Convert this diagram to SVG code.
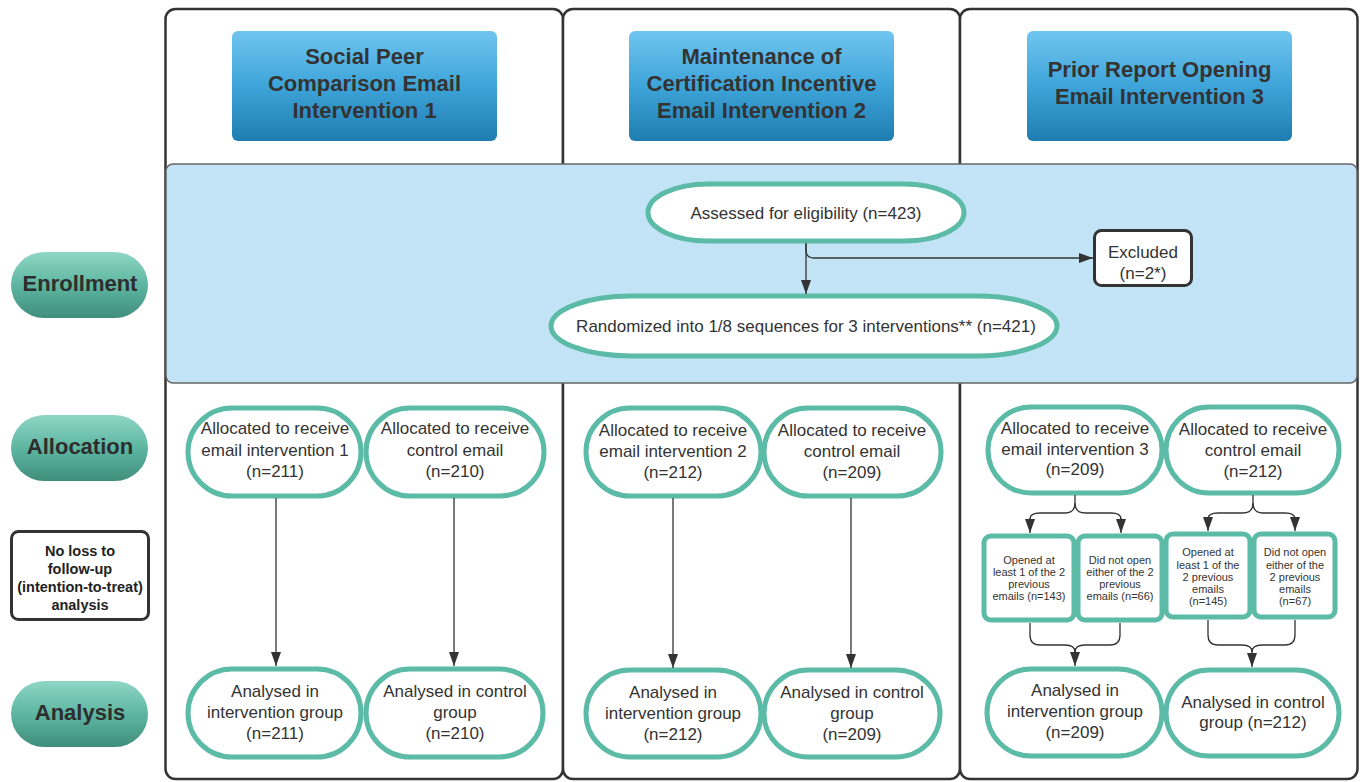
<svg xmlns="http://www.w3.org/2000/svg" width="1360" height="782" viewBox="0 0 1360 782">
<defs>
<linearGradient id="gBlue" x1="0" y1="0" x2="0" y2="1"><stop offset="0" stop-color="#70c5ef"/><stop offset="0.5" stop-color="#3ea4d9"/><stop offset="1" stop-color="#1f7db0"/></linearGradient>
<linearGradient id="gGreen" x1="0" y1="0" x2="0" y2="1"><stop offset="0" stop-color="#8fd6c6"/><stop offset="0.5" stop-color="#5db6a1"/><stop offset="1" stop-color="#3f8e7c"/></linearGradient>
<marker id="arr" viewBox="0 0 14 10" refX="14" refY="5" markerWidth="14" markerHeight="10" markerUnits="userSpaceOnUse" orient="auto"><path d="M0,0 L14,5 L0,10 Z" fill="#333"/></marker>
<style>
.panel{fill:#fff;stroke:#333;stroke-width:2.5}
.hdr{fill:url(#gBlue)}
.hdrt{font-family:"Liberation Sans",Arial,sans-serif;font-weight:bold;font-size:22px;fill:#333;text-anchor:middle}
.lbl{fill:url(#gGreen)}
.lblt{font-family:"Liberation Sans",Arial,sans-serif;font-weight:bold;font-size:22px;fill:#2d2d2d;text-anchor:middle}
.node{fill:#fff;stroke:#5cbba6;stroke-width:5}
.t{font-family:"Liberation Sans",Arial,sans-serif;font-size:17px;fill:#333;text-anchor:middle}
.s{font-family:"Liberation Sans",Arial,sans-serif;font-size:11px;fill:#333;text-anchor:middle}
.b13{font-family:"Liberation Sans",Arial,sans-serif;font-weight:bold;font-size:14.5px;fill:#222;text-anchor:middle}
.dark{fill:#fff;stroke:#333;stroke-width:3}
.conn{fill:none;stroke:#333;stroke-width:1.3}
</style>
</defs>

<g id="panels">
<rect class="panel" x="165.5" y="9" width="397.5" height="770" rx="10"/>
<rect class="panel" x="563" y="9" width="397" height="770" rx="10"/>
<rect class="panel" x="960" y="9" width="397.5" height="770" rx="10"/>
</g>

<g id="enrollment-band">
<rect x="166" y="164" width="1191" height="219" rx="7" fill="#c2e4f6" stroke="#666" stroke-width="1.5"/>
</g>

<g id="header1"><rect class="hdr" x="232" y="31" width="265" height="110" rx="6"/>
<text class="hdrt" x="364.5" y="64">Social Peer</text><text class="hdrt" x="364.5" y="91">Comparison Email</text><text class="hdrt" x="364.5" y="118">Intervention 1</text></g>
<g id="header2"><rect class="hdr" x="629" y="31" width="265" height="110" rx="6"/>
<text class="hdrt" x="761.5" y="64">Maintenance of</text><text class="hdrt" x="761.5" y="91">Certification Incentive</text><text class="hdrt" x="761.5" y="118">Email Intervention 2</text></g>
<g id="header3"><rect class="hdr" x="1027" y="31" width="265" height="110" rx="6"/>
<text class="hdrt" x="1159.5" y="77">Prior Report Opening</text><text class="hdrt" x="1159.5" y="104">Email Intervention 3</text></g>

<g id="label-enrollment"><rect class="lbl" x="11" y="252" width="137" height="66" rx="33"/><text class="lblt" x="80" y="291">Enrollment</text></g>
<g id="label-allocation"><rect class="lbl" x="11" y="415" width="137" height="66" rx="33"/><text class="lblt" x="80" y="454">Allocation</text></g>
<g id="label-followup"><rect class="dark" x="11.5" y="531.5" width="137" height="88" rx="7"/>
<text class="b13" x="80" y="556">No loss to</text><text class="b13" x="80" y="574">follow-up</text><text class="b13" x="80" y="592">(intention-to-treat)</text><text class="b13" x="80" y="610">analysis</text></g>
<g id="label-analysis"><rect class="lbl" x="11" y="681" width="137" height="66" rx="33"/><text class="lblt" x="80" y="720">Analysis</text></g>

<g id="assessed"><rect class="node" x="648" y="184" width="316" height="57" rx="60" ry="28.5"/><text class="t" x="806" y="219">Assessed for eligibility (n=423)</text></g>
<g id="excluded"><rect class="dark" x="1094.5" y="230.5" width="97" height="55" rx="7"/><text class="t" x="1143" y="258">Excluded</text><text class="t" x="1143" y="279">(n=2*)</text></g>
<g id="randomized"><rect class="node" x="551" y="296" width="506" height="60" rx="80" ry="30"/><text class="t" x="806" y="332">Randomized into 1/8 sequences for 3 interventions** (n=421)</text></g>

<g id="alloc1a"><rect class="node" x="188" y="408" width="173" height="88" rx="44"/><text class="t" x="275" y="434">Allocated to receive</text><text class="t" x="275" y="456">email intervention 1</text><text class="t" x="275" y="477">(n=211)</text></g>
<g id="alloc1b"><rect class="node" x="366" y="408" width="178" height="88" rx="44"/><text class="t" x="455" y="434">Allocated to receive</text><text class="t" x="455" y="456">control email</text><text class="t" x="455" y="477">(n=210)</text></g>
<g id="alloc2a"><rect class="node" x="586" y="408" width="175" height="88" rx="44"/><text class="t" x="673" y="436">Allocated to receive</text><text class="t" x="673" y="457">email intervention 2</text><text class="t" x="673" y="478">(n=212)</text></g>
<g id="alloc2b"><rect class="node" x="764" y="408" width="177" height="88" rx="44"/><text class="t" x="852" y="436">Allocated to receive</text><text class="t" x="852" y="457">control email</text><text class="t" x="852" y="478">(n=209)</text></g>
<g id="alloc3a"><rect class="node" x="988" y="407" width="174" height="86" rx="43"/><text class="t" x="1075" y="434">Allocated to receive</text><text class="t" x="1075" y="455">email intervention 3</text><text class="t" x="1075" y="475">(n=209)</text></g>
<g id="alloc3b"><rect class="node" x="1166" y="407" width="173" height="86" rx="43"/><text class="t" x="1253" y="435">Allocated to receive</text><text class="t" x="1253" y="456">control email</text><text class="t" x="1253" y="477">(n=212)</text></g>

<g id="sub1"><rect class="node" x="984" y="536" width="90" height="84" rx="7"/><text class="s" x="1029" y="564">Opened at</text><text class="s" x="1029" y="576">least 1 of the 2</text><text class="s" x="1029" y="588">previous</text><text class="s" x="1029" y="600">emails (n=143)</text></g>
<g id="sub2"><rect class="node" x="1078" y="536" width="84" height="84" rx="7"/><text class="s" x="1120" y="564">Did not open</text><text class="s" x="1120" y="576">either of the 2</text><text class="s" x="1120" y="588">previous</text><text class="s" x="1120" y="600">emails (n=66)</text></g>
<g id="sub3"><rect class="node" x="1166" y="534" width="84" height="83" rx="7"/><text class="s" x="1208" y="556">Opened at</text><text class="s" x="1208" y="569">least 1 of the</text><text class="s" x="1208" y="581">2 previous</text><text class="s" x="1208" y="593">emails</text><text class="s" x="1208" y="605">(n=145)</text></g>
<g id="sub4"><rect class="node" x="1254" y="534" width="81" height="83" rx="7"/><text class="s" x="1295" y="556">Did not open</text><text class="s" x="1295" y="569">either of the</text><text class="s" x="1295" y="581">2 previous</text><text class="s" x="1295" y="593">emails</text><text class="s" x="1295" y="605">(n=67)</text></g>

<g id="anal1a"><rect class="node" x="188" y="669" width="173" height="88" rx="44"/><text class="t" x="275" y="697">Analysed in</text><text class="t" x="275" y="718">intervention group</text><text class="t" x="275" y="739">(n=211)</text></g>
<g id="anal1b"><rect class="node" x="366" y="669" width="177" height="88" rx="44"/><text class="t" x="455" y="697">Analysed in control</text><text class="t" x="455" y="718">group</text><text class="t" x="455" y="739">(n=210)</text></g>
<g id="anal2a"><rect class="node" x="586" y="670" width="175" height="87" rx="44"/><text class="t" x="673" y="698">Analysed in</text><text class="t" x="673" y="719">intervention group</text><text class="t" x="673" y="740">(n=212)</text></g>
<g id="anal2b"><rect class="node" x="764" y="670" width="176" height="87" rx="44"/><text class="t" x="852" y="698">Analysed in control</text><text class="t" x="852" y="719">group</text><text class="t" x="852" y="740">(n=209)</text></g>
<g id="anal3a"><rect class="node" x="987" y="669" width="175" height="87" rx="44"/><text class="t" x="1075" y="696">Analysed in</text><text class="t" x="1075" y="717">intervention group</text><text class="t" x="1075" y="738">(n=209)</text></g>
<g id="anal3b"><rect class="node" x="1166" y="670" width="173" height="86" rx="43"/><text class="t" x="1253" y="708">Analysed in control</text><text class="t" x="1253" y="728">group (n=212)</text></g>

<g id="connectors">
<path class="conn" marker-end="url(#arr)" d="M806,243 V294"/>
<path class="conn" marker-end="url(#arr)" d="M806,244 V250 Q806,258 814,258 H1093"/>
<path class="conn" marker-end="url(#arr)" d="M276,498 V666"/>
<path class="conn" marker-end="url(#arr)" d="M454,498 V666"/>
<path class="conn" marker-end="url(#arr)" d="M673,498 V668"/>
<path class="conn" marker-end="url(#arr)" d="M851,498 V668"/>
<path class="conn" d="M1075,495 V503 Q1075,513 1065,513 H1040 Q1030,513 1030,519"/>
<path class="conn" marker-end="url(#arr)" d="M1030,518 V533"/>
<path class="conn" d="M1075,503 Q1075,513 1085,513 H1111 Q1121,513 1121,519"/>
<path class="conn" marker-end="url(#arr)" d="M1121,518 V533"/>
<path class="conn" d="M1253,495 V503 Q1253,513 1243,513 H1218 Q1208,513 1208,519"/>
<path class="conn" marker-end="url(#arr)" d="M1208,518 V531"/>
<path class="conn" d="M1253,503 Q1253,513 1263,513 H1285 Q1295,513 1295,519"/>
<path class="conn" marker-end="url(#arr)" d="M1295,518 V531"/>
<path class="conn" d="M1030,623 V635 Q1030,645 1040,645 H1065 Q1075,645 1075,652"/>
<path class="conn" d="M1120,623 V635 Q1120,645 1110,645 H1085 Q1075,645 1075,652"/>
<path class="conn" marker-end="url(#arr)" d="M1075,650 V666"/>
<path class="conn" d="M1208,620 V635 Q1208,645 1218,645 H1242 Q1252,645 1252,652"/>
<path class="conn" d="M1295,620 V635 Q1295,645 1285,645 H1262 Q1252,645 1252,652"/>
<path class="conn" marker-end="url(#arr)" d="M1252,650 V667"/>
</g>
</svg>
